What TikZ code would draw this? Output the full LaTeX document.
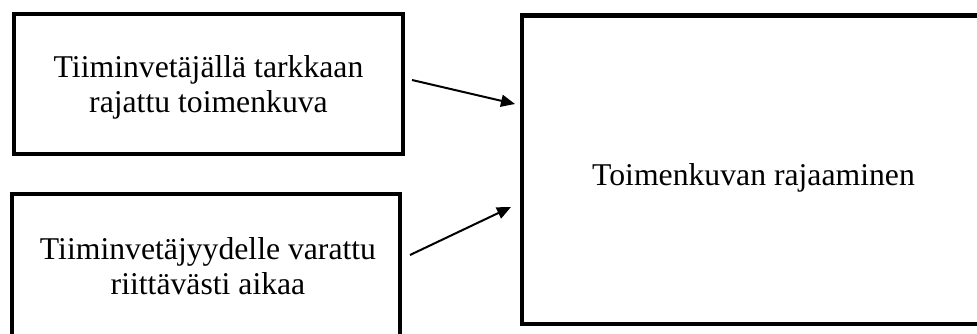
\documentclass[tikz,border=0pt]{standalone}
\usepackage{fontspec}
\setmainfont{Liberation Serif}
\usetikzlibrary{arrows.meta}
\tikzset{
  box/.style={draw=black, line width=4pt, fill=none, inner sep=0pt, minimum width=#1},
  box/.default=389pt,
  label text/.style={align=center, inner sep=0pt, font=\fontsize{31.7}{35}\selectfont},
  arr/.style={line width=2pt, -{Triangle[length=14pt,width=12pt]}}
}
\begin{document}
\begin{tikzpicture}[x=1pt,y=1pt]
  \useasboundingbox (0,0) rectangle (977,333);
  \clip (0,0) rectangle (977,333);
  \fill[white] (0,0) rectangle (977,333);

  % boxes (the right one runs past the page edge)
  \node[box=389pt, minimum height=140pt] (a) at (208.5,249) {};
  \node[box=388.5pt, minimum height=142pt] (b) at (205.75,68) {};
  \node[box=540pt, minimum height=308.5pt] (c) at (792,163.25) {};

  % texts
  \node[label text] (at) at (208.5,245.8) {Tiiminvetäjällä tarkkaan\\rajattu toimenkuva};
  \node[label text] (bt) at (208,67.1) {Tiiminvetäjyydelle varattu\\riittävästi aikaa};
  \node[label text, anchor=base] (ct) at (753.5,148) {Toimenkuvan rajaaminen};

  % connectors
  \draw[arr] ([shift={(7,4)}]a.east) -- ([shift={(-5,65.75)}]c.west);
  \draw[arr] ([shift={(8,10)}]b.east) -- ([shift={(-9,-37.25)}]c.west);
\end{tikzpicture}
\end{document}
